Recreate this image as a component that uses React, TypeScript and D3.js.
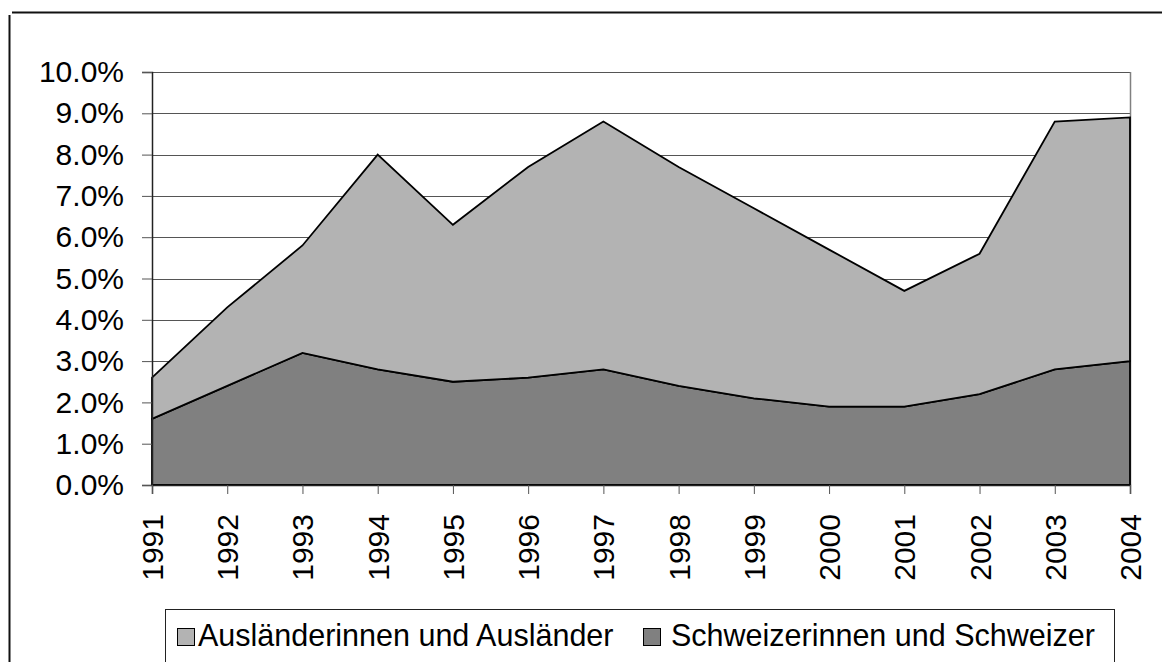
import React, { useEffect, useRef } from 'react'
import * as d3 from 'd3'

// Anteil in Prozent, gestapelt
const years = ['1991', '1992', '1993', '1994', '1995', '1996', '1997', '1998', '1999', '2000', '2001', '2002', '2003', '2004']
const swiss = [1.6, 2.4, 3.2, 2.8, 2.5, 2.6, 2.8, 2.4, 2.1, 1.9, 1.9, 2.2, 2.8, 3.0]
const foreign = [1.0, 1.9, 2.6, 5.2, 3.8, 5.1, 6.0, 5.3, 4.6, 3.8, 2.8, 3.4, 6.0, 5.9]
const yTicks = [0, 1, 2, 3, 4, 5, 6, 7, 8, 9, 10]
const seriesNames = ['Schweizerinnen und Schweizer', 'Ausländerinnen und Ausländer']
const legendOrder = ['Ausländerinnen und Ausländer', 'Schweizerinnen und Schweizer']

const colors: Record<string, string> = {
    'Schweizerinnen und Schweizer': '#808080',
    'Ausländerinnen und Ausländer': '#b3b3b3',
}

function App() {
    const ref = useRef<SVGSVGElement>(null)

    useEffect(() => {
        const W = 1162, H = 662
        const left = 152, right = 1130, top = 72, bottom = 485
        const font = "'Liberation Sans', Arial, sans-serif"

        const svg = d3.select(ref.current)
        svg.selectAll('*').remove()

        // outer frame (top + left edges only visible)
        svg.append('line')
            .attr('x1', 12).attr('x2', W).attr('y1', 12.5).attr('y2', 12.5)
            .attr('stroke', '#111').attr('stroke-width', 2)
        svg.append('line')
            .attr('x1', 9.5).attr('x2', 9.5).attr('y1', 15).attr('y2', H)
            .attr('stroke', '#111').attr('stroke-width', 2)

        const table = years.map((y, i) => ({
            year: y,
            'Schweizerinnen und Schweizer': swiss[i],
            'Ausländerinnen und Ausländer': foreign[i],
        }))

        const x = d3.scalePoint().domain(years).range([left, right])
        const y = d3.scaleLinear().domain([0, 10]).range([bottom, top])

        // gridlines
        svg.append('g')
            .selectAll('line')
            .data(yTicks.filter(t => t > 0))
            .enter().append('line')
            .attr('x1', left).attr('x2', right)
            .attr('y1', d => Math.round(y(d)) + 0.5).attr('y2', d => Math.round(y(d)) + 0.5)
            .attr('stroke', '#555').attr('stroke-width', 1)

        // plot area right border
        svg.append('line')
            .attr('x1', right + 0.5).attr('x2', right + 0.5).attr('y1', top).attr('y2', bottom)
            .attr('stroke', '#808080').attr('stroke-width', 1.5)

        const stack = d3.stack<any>().keys(seriesNames)
        const layers = stack(table)

        const area = d3.area<any>()
            .x(d => x(d.data.year)!)
            .y0(d => y(d[0]))
            .y1(d => y(d[1]))

        svg.append('g')
            .selectAll('path')
            .data(layers)
            .enter().append('path')
            .attr('d', d => area(d as any))
            .attr('fill', d => colors[d.key])
            .attr('stroke', '#000')
            .attr('stroke-width', 1.8)
            .attr('stroke-linejoin', 'miter')

        // axes
        const yAxis = d3.axisLeft(y).tickValues(yTicks).tickSize(10).tickPadding(18)
            .tickFormat(d => (d as number).toFixed(1) + '%')
        const gy = svg.append('g')
            .attr('transform', `translate(${left},0)`)
            .call(yAxis)
        gy.select('.domain').attr('stroke', '#222').attr('stroke-width', 1.5)
        gy.selectAll('.tick line').attr('stroke', '#555')
        gy.selectAll('.tick text')
            .style('font-family', font).style('font-size', '30px').attr('fill', '#000')

        const xAxis = d3.axisBottom(x).tickSize(9).tickFormat(d => d as string)
        const gx = svg.append('g')
            .attr('transform', `translate(0,${bottom})`)
            .call(xAxis)
        gx.select('.domain').attr('stroke', '#222').attr('stroke-width', 1.5)
        gx.selectAll('.tick line').attr('stroke', '#555')
        gx.selectAll('.tick text')
            .style('font-family', font).style('font-size', '30px').attr('fill', '#000')
            .attr('text-anchor', 'end')
            .attr('transform', 'rotate(-90)')
            .attr('x', -29).attr('y', 0).attr('dy', '0.35em')

        // legend
        const lg = svg.append('g')
        lg.append('rect')
            .attr('x', 165.5).attr('y', 609.5).attr('width', 949).attr('height', 70)
            .attr('fill', '#fff').attr('stroke', '#222').attr('stroke-width', 1)
        const swatchX = [177, 643]
        const labelX = [198, 671]
        legendOrder.forEach((name, i) => {
            lg.append('rect')
                .attr('x', swatchX[i] + 0.5).attr('y', 628.5).attr('width', 17).attr('height', 17)
                .attr('fill', colors[name]).attr('stroke', '#000').attr('stroke-width', 1)
            lg.append('text')
                .attr('x', labelX[i]).attr('y', 646)
                .style('font-family', font).style('font-size', '30.5px')
                .text(name)
        })
    }, [])

    return (
        <svg ref={ref} width={1162} height={662}
            style={{ position: 'absolute', left: 0, top: 0, background: '#fff' }} />
    )
}

export default App
